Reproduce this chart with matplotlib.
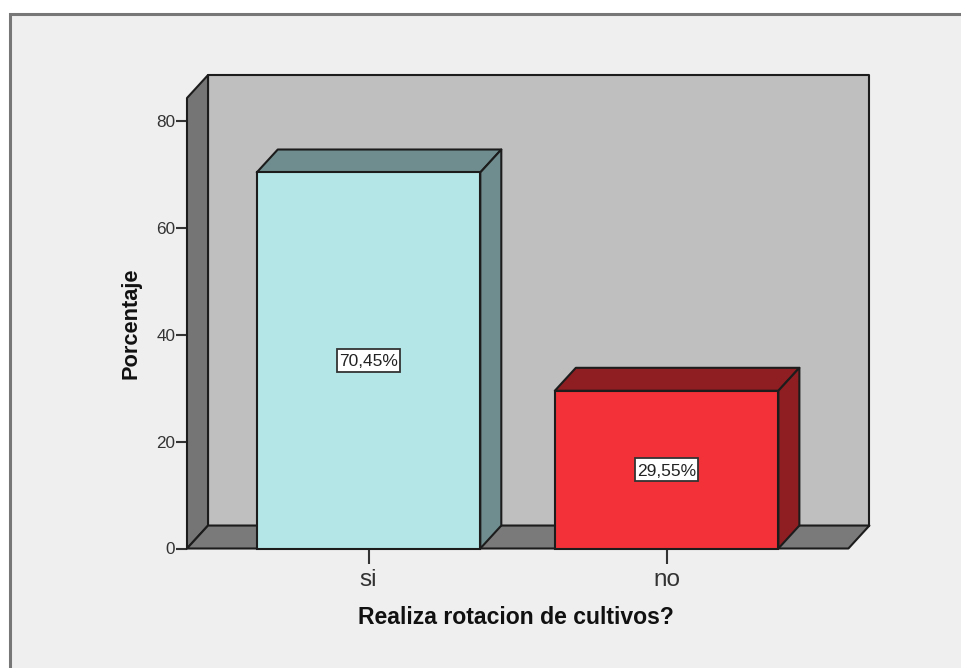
import matplotlib
matplotlib.use("Agg")
import matplotlib.pyplot as plt
from matplotlib.patches import Polygon, Rectangle

plt.rcParams['font.family'] = ['Liberation Sans', 'DejaVu Sans']

categories = ["si", "no"]
percentages = [70.45, 29.55]
labels = ["70,45%", "29,55%"]
y_ticks = [0, 20, 40, 60, 80]

W, H = 961, 668
EDGE = "#1c1c1c"
LW = 1.5

# depth of the fake 3D box, in data units
depth_x = 0.0705
depth_y = 4.3
bar_width = 0.75
x_min, x_max = -0.609, 1.610
y_max = 84.4
# size of the white value boxes, in data units
box_w = 0.213
box_h = 4.4

fig = plt.figure(figsize=(W / 100, H / 100), dpi=100, facecolor="white")

# panel behind the chart
panel = fig.add_axes([0, 0, 1, 1], zorder=0)
panel.set_xlim(0, W)
panel.set_ylim(H, 0)
panel.axis("off")
panel.add_patch(Rectangle((10.3, 14.2), W + 20, H + 20, facecolor="#efefef",
                          edgecolor="#777777", linewidth=2.2))

ax = fig.add_axes([187 / W, 1 - 548.5 / H, 661.4 / W, 450.5 / H], zorder=1)
ax.set_xlim(x_min, x_max)
ax.set_ylim(0, y_max)
ax.patch.set_visible(False)
for s in ax.spines.values():
    s.set_visible(False)


def face(points, color, z):
    ax.add_patch(Polygon(points, closed=True, facecolor=color, edgecolor=EDGE,
                         linewidth=LW, joinstyle="round", clip_on=False, zorder=z))


# back wall, left wall, floor
face([(x_min + depth_x, depth_y), (x_max + depth_x, depth_y),
      (x_max + depth_x, y_max + depth_y), (x_min + depth_x, y_max + depth_y)], "#bfbfbf", 1)
face([(x_min, 0), (x_min + depth_x, depth_y),
      (x_min + depth_x, y_max + depth_y), (x_min, y_max)], "#757575", 2)
face([(x_min, 0), (x_max, 0), (x_max + depth_x, depth_y),
      (x_min + depth_x, depth_y)], "#7a7a7a", 2)

front_colors = ["#b5e6e7", "#f23238"]
side_colors = ["#6f8d8e", "#8f1e22"]
positions = list(range(len(categories)))

bars = ax.bar(positions, percentages, width=bar_width, color=front_colors,
              edgecolor=EDGE, linewidth=LW, zorder=4, clip_on=False)

for bar, top_color, value, text in zip(bars, side_colors, percentages, labels):
    x0 = bar.get_x()
    x1 = x0 + bar.get_width()
    xc = x0 + bar.get_width() / 2
    # top and right faces of the bar
    face([(x0, value), (x1, value), (x1 + depth_x, value + depth_y),
          (x0 + depth_x, value + depth_y)], top_color, 3)
    face([(x1, 0), (x1 + depth_x, depth_y), (x1 + depth_x, value + depth_y),
          (x1, value)], top_color, 3)
    ax.add_patch(Rectangle((xc - box_w / 2, value / 2 - box_h / 2), box_w, box_h,
                           facecolor="white", edgecolor="#333333", linewidth=1.3, zorder=5))
    ax.text(xc, value / 2, text, ha="center", va="center_baseline",
            fontsize=12.5, color="#222222", zorder=6)

ax.set_xticks(positions)
ax.set_xticklabels(categories, fontsize=17.5, color="#333333")
ax.set_yticks(y_ticks)
ax.set_yticklabels([str(t) for t in y_ticks], fontsize=12.3, color="#333333")
ax.tick_params(axis="x", length=10.5, width=1.5, color="#333333", pad=4.5)
ax.tick_params(axis="y", length=8, width=1.5, color="#333333", pad=0.5)

fig.text(131 / W, 1 - 323.5 / H, "Porcentaje", rotation=90, ha="center", va="center",
         fontsize=15.7, fontweight="bold", color="#111111")
fig.text(516 / W, 1 - 617 / H, "Realiza rotacion de cultivos?", ha="center", va="center",
         fontsize=16.6, fontweight="bold", color="#111111")

fig.savefig("out.png", dpi=100)
